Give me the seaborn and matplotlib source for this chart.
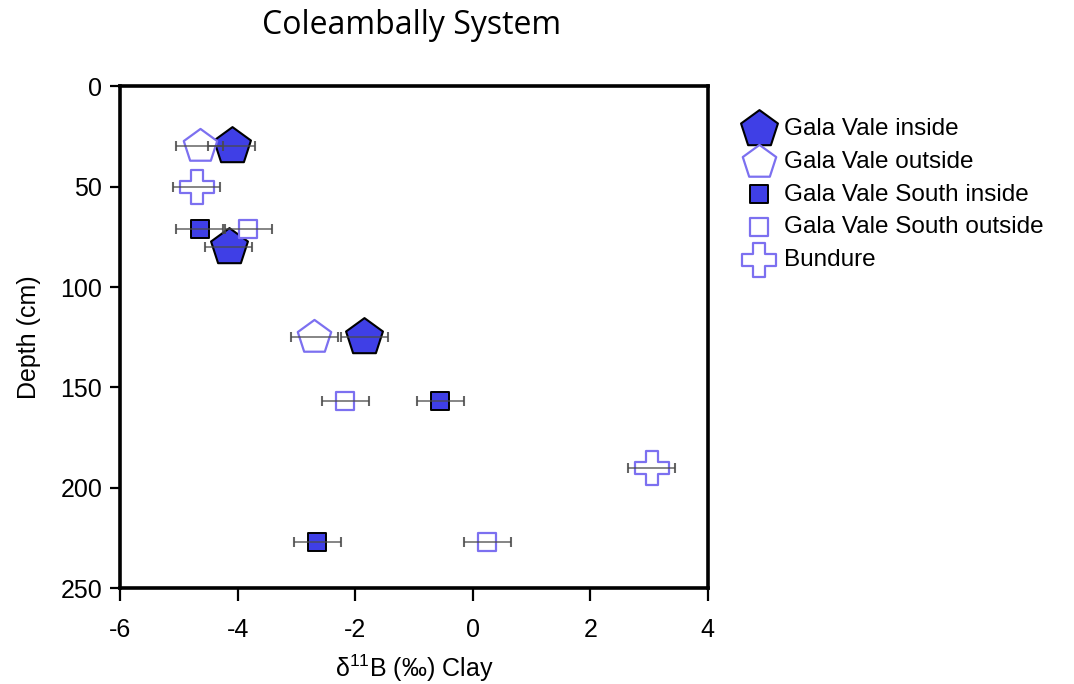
import matplotlib
matplotlib.use("Agg")
import matplotlib.pyplot as plt
import seaborn as sns
import pandas as pd

# d11B clay values (per mil) and depths (cm)
series = ["Gala Vale inside", "Gala Vale outside", "Gala Vale South inside",
          "Gala Vale South outside", "Bundure"]

gvi_x = [-4.1, -4.15, -1.85]
gvi_depth = [30, 80, 125]
gvo_x = [-4.65, -2.7]
gvo_depth = [30, 125]
gvsi_x = [-4.65, -0.55, -2.65]
gvsi_depth = [71, 157, 227]
gvso_x = [-3.82, -2.17, 0.25]
gvso_depth = [71, 157, 227]
bun_x = [-4.7, 3.05]
bun_depth = [50, 190]
x_err = 0.4

xticks = [-6, -4, -2, 0, 2, 4]
yticks = [0, 50, 100, 150, 200, 250]

blue = "#3f3fe6"
light = "#7c70f0"

rows = []
for name, xs, ds in zip(series, [gvi_x, gvo_x, gvsi_x, gvso_x, bun_x],
                        [gvi_depth, gvo_depth, gvsi_depth, gvso_depth, bun_depth]):
    for xv, dv in zip(xs, ds):
        rows.append({"site": name, "d11B": xv, "depth": dv})
df = pd.DataFrame(rows)

styles = {
    "Gala Vale inside": dict(marker="p", s=780, color=blue, edgecolor="black", linewidth=1.5),
    "Gala Vale outside": dict(marker="p", s=640, color="white", edgecolor=light, linewidth=1.6),
    "Gala Vale South inside": dict(marker="s", s=175, color=blue, edgecolor="black", linewidth=1.4),
    "Gala Vale South outside": dict(marker="s", s=180, color="white", edgecolor=light, linewidth=1.6),
    "Bundure": dict(marker="P", s=580, color="white", edgecolor=light, linewidth=1.6),
}

sns.set_style("ticks")
plt.rcParams["font.family"] = ["Liberation Sans", "DejaVu Sans"]
plt.rcParams["axes.unicode_minus"] = False

fig = plt.figure(figsize=(10.74, 6.84), dpi=100)
ax = fig.add_axes([0.112, 0.140, 0.547, 0.734])

for name in series:
    sub = df[df["site"] == name]
    sns.scatterplot(data=sub, x="d11B", y="depth", ax=ax, label=name, zorder=2, **styles[name])
    ax.errorbar(sub["d11B"], sub["depth"], xerr=x_err, fmt="none", ecolor="#4a4a4a",
                elinewidth=1.1, capsize=3.5, capthick=1.5, zorder=3, alpha=0.85)

ax.set_xlim(-6, 4)
ax.set_ylim(250, 0)
ax.set_xticks(xticks)
ax.set_yticks(yticks)
ax.tick_params(direction="out", width=1.6, labelsize=18, colors="black")
ax.tick_params(axis="x", length=9.5, pad=12)
ax.tick_params(axis="y", length=7, pad=6)
for sp in ax.spines.values():
    sp.set_linewidth(2.6)
    sp.set_color("black")
    sp.set_visible(True)

ax.set_xlabel(r"$\mathregular{\delta^{11}}$B (‰) Clay", fontsize=18, color="black")
ax.set_ylabel("Depth (cm)", fontsize=18, color="black")
ax.xaxis.set_label_coords(0.5, -0.128)
ax.yaxis.set_label_coords(-0.135, 0.5)

fig.text(0.383, 0.963, "Coleambally System", fontsize=23, family="Open Sans",
         ha="center", va="center", color="black")

ax.legend(loc="upper left", bbox_to_anchor=(1.063, 0.936), frameon=False, fontsize=17.5,
          handlelength=1.2, handletextpad=0.4, labelspacing=0.44, borderaxespad=0,
          borderpad=0, labelcolor="black")

fig.savefig("out.png", dpi=100)
